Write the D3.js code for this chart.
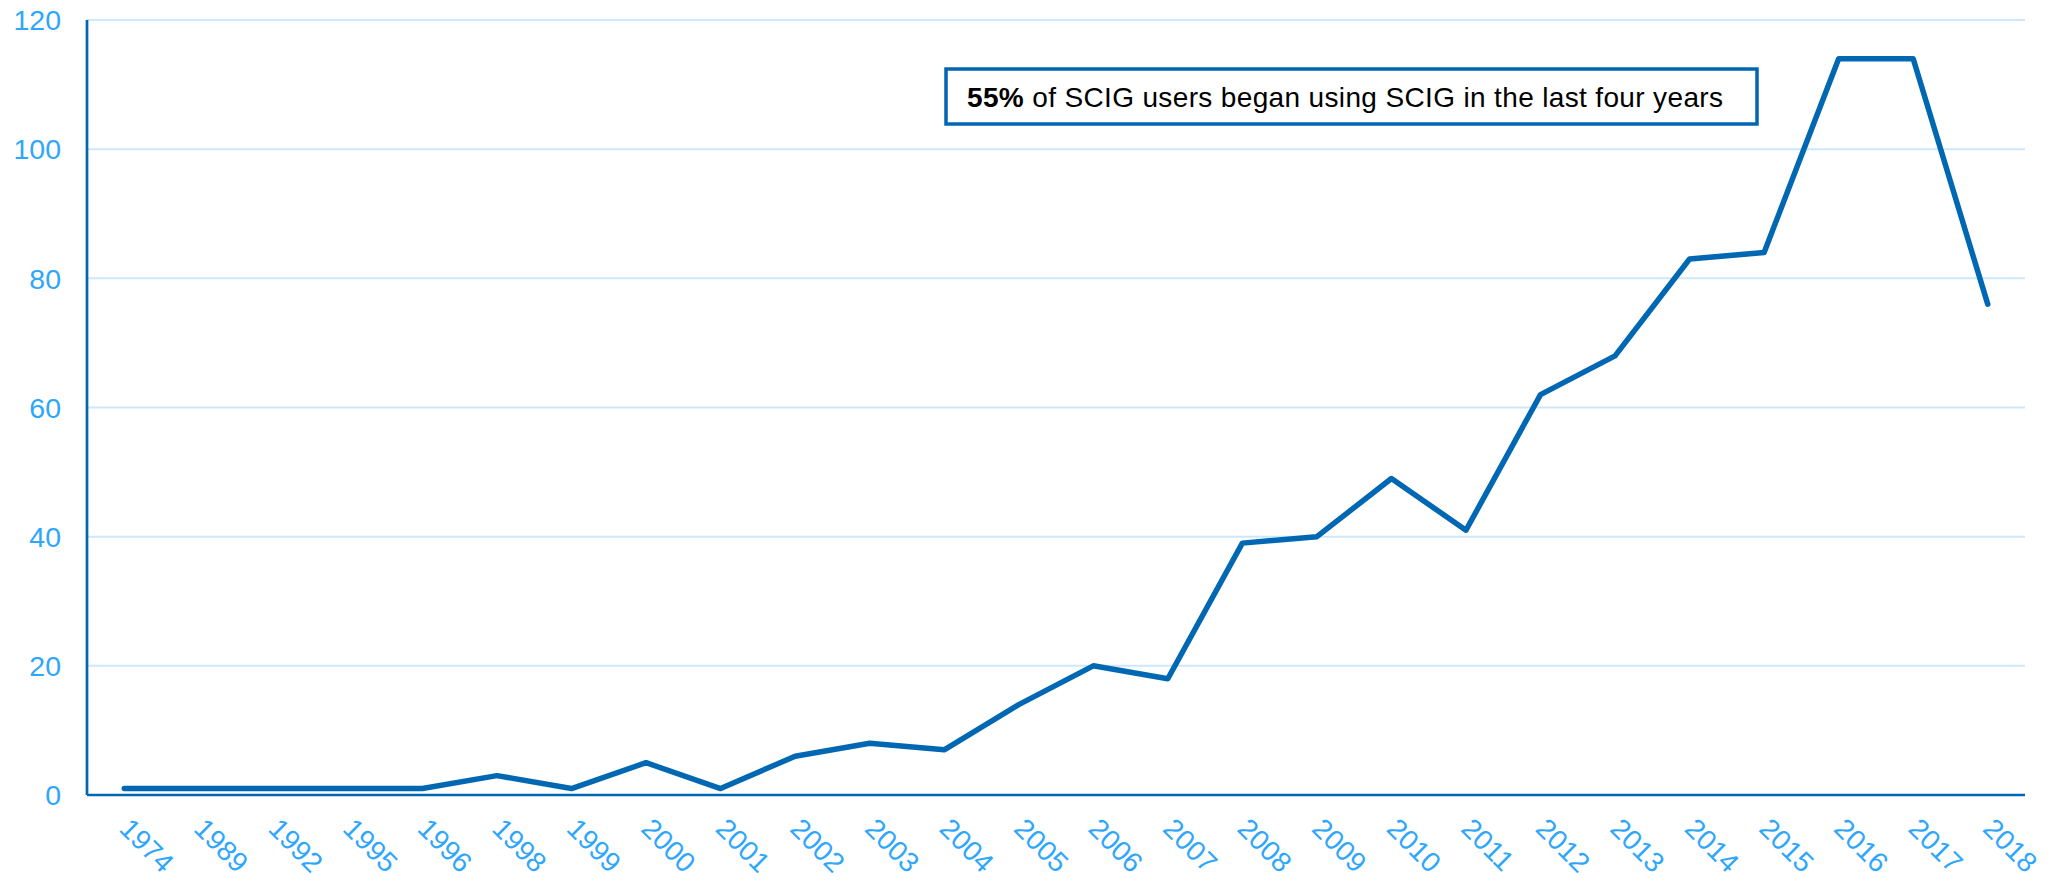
<!DOCTYPE html>
<html>
<head>
<meta charset="utf-8">
<script src="https://cdn.jsdelivr.net/npm/d3@7"></script>
<style>
  body { margin: 0; background: #fff; }
  text { font-family: "Liberation Sans", Arial, sans-serif; }
</style>
</head>
<body>
<script>
var years = ["1974", "1989", "1992", "1995", "1996", "1998", "1999", "2000", "2001", "2002",
  "2003", "2004", "2005", "2006", "2007", "2008", "2009", "2010", "2011", "2012",
  "2013", "2014", "2015", "2016", "2017", "2018"];
var users = [1, 1, 1, 1, 1, 3, 1, 5, 1, 6, 8, 7, 14, 20, 18, 39, 40, 49, 41, 62, 68, 83, 84, 114, 114, 76];
var yTicks = [0, 20, 40, 60, 80, 100, 120];

var margin = {top: 20, right: 27, bottom: 85, left: 87},
  width = 2052 - margin.left - margin.right,
  height = 880 - margin.top - margin.bottom;

var x = d3.scalePoint()
  .domain(years)
  .range([0, width])
  .padding(0.5);

var y = d3.scaleLinear()
  .domain([0, 120])
  .range([height, 0]);

var svg = d3.select("body").append("svg")
  .attr("width", width + margin.left + margin.right)
  .attr("height", height + margin.top + margin.bottom)
  .append("g")
  .attr("transform", "translate(" + margin.left + "," + margin.top + ")");

// gridlines
svg.selectAll(".grid")
  .data(yTicks.filter(function(d) { return d > 0; }))
  .enter().append("line")
  .attr("x1", 0).attr("x2", width)
  .attr("y1", function(d) { return y(d); })
  .attr("y2", function(d) { return y(d); })
  .attr("stroke", "#cde8fb")
  .attr("stroke-width", 2);

// y labels
svg.selectAll(".ylab")
  .data(yTicks)
  .enter().append("text")
  .attr("x", -26)
  .attr("y", function(d) { return y(d); })
  .attr("dy", "0.36em")
  .attr("text-anchor", "end")
  .attr("font-size", 28.5)
  .attr("fill", "#2ea6fb")
  .text(function(d) { return d; });

// x labels, rotated
svg.selectAll(".xlab")
  .data(years)
  .enter().append("text")
  .attr("transform", function(d) { return "translate(" + (x(d) + 8) + "," + (height + 21) + ") rotate(45)"; })
  .attr("dy", "0.72em")
  .attr("text-anchor", "start")
  .attr("font-size", 28)
  .attr("fill", "#2ea6fb")
  .text(function(d) { return d; });

// axes lines
svg.append("line")
  .attr("x1", 0).attr("x2", 0)
  .attr("y1", 0).attr("y2", height)
  .attr("stroke", "#0066b3").attr("stroke-width", 2.7);
svg.append("line")
  .attr("x1", 0).attr("x2", width)
  .attr("y1", height).attr("y2", height)
  .attr("stroke", "#0066b3").attr("stroke-width", 2.7);

// the line
var line = d3.line()
  .x(function(d, i) { return x(years[i]); })
  .y(function(d) { return y(d); });

svg.append("path")
  .datum(users)
  .attr("d", line)
  .attr("fill", "none")
  .attr("stroke", "#0068b2")
  .attr("stroke-width", 5.5)
  .attr("stroke-linejoin", "round")
  .attr("stroke-linecap", "round");

// annotation box
var box = svg.append("g").attr("transform", "translate(" + (946 - margin.left) + "," + (69 - margin.top) + ")");
box.append("rect")
  .attr("width", 811).attr("height", 55)
  .attr("fill", "#fff")
  .attr("stroke", "#0066b3").attr("stroke-width", 3.5);
var note = box.append("text")
  .attr("x", 21).attr("y", 38)
  .attr("text-anchor", "start")
  .attr("font-size", 28)
  .attr("fill", "#000");
note.append("tspan").attr("font-weight", "bold").text("55%");
note.append("tspan").text(" of SCIG users began using SCIG in the last four years");
// stretch the note to the reference width
var len = note.node().getComputedTextLength();
var nChars = note.text().length;
note.attr("letter-spacing", ((756 - len) / (nChars - 1)) + "px");
</script>
</body>
</html>
